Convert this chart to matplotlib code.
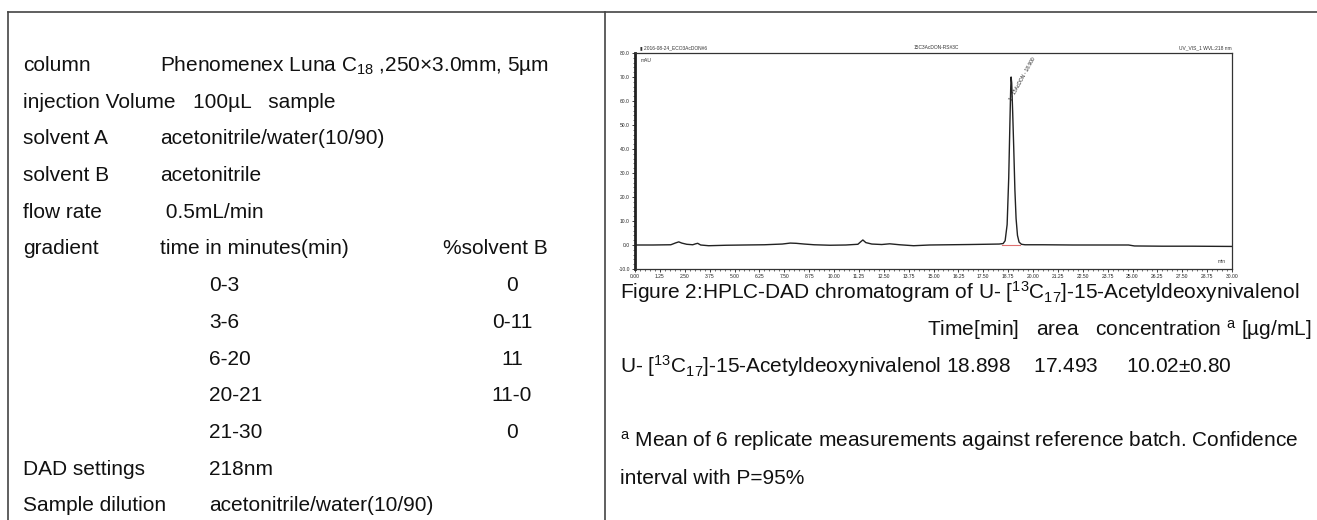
import matplotlib
matplotlib.use("Agg")
import matplotlib.pyplot as plt
from matplotlib.ticker import MultipleLocator, FormatStrFormatter

plt.rcParams['font.family'] = ['Liberation Sans', 'DejaVu Sans']
plt.rcParams['mathtext.fontset'] = 'custom'
plt.rcParams['mathtext.rm'] = 'Liberation Sans'
plt.rcParams['mathtext.it'] = 'Liberation Sans:italic'
plt.rcParams['mathtext.bf'] = 'Liberation Sans:bold'

# chromatogram trace (time in min, signal in mAU)
rt_min = [0.0, 0.9, 1.8, 2.05, 2.2, 2.35, 2.6, 2.9, 3.05, 3.15, 3.3, 3.7, 4.6, 5.5,
          6.5, 7.4, 7.8, 8.1, 8.5, 9.0, 9.8, 10.6, 11.2, 11.35, 11.45, 11.6, 11.9,
          12.4, 12.8, 13.3, 14.0, 14.8, 15.8, 16.8, 17.6, 18.3, 18.5, 18.6, 18.7,
          18.78, 18.84, 18.88, 18.9, 18.93, 18.98, 19.03, 19.09, 19.15, 19.22, 19.3,
          19.42, 19.6, 20.5, 22.0, 23.5, 24.8, 25.1, 26.5, 28.0, 30.0]
signal_mau = [0.0, 0.0, 0.1, 0.9, 1.3, 0.8, 0.3, 0.1, 0.5, 0.7, 0.0, -0.3, -0.1, 0.0,
              0.1, 0.4, 0.8, 0.7, 0.4, 0.1, -0.1, 0.0, 0.3, 1.4, 2.1, 1.0, 0.4,
              0.2, 0.5, 0.1, -0.3, 0.0, 0.1, 0.2, 0.3, 0.4, 0.6, 1.8, 8.5,
              28.0, 51.0, 65.5, 70.0, 67.5, 55.0, 41.0, 23.0, 11.0, 4.0, 1.2,
              0.3, 0.1, 0.1, 0.0, 0.0, 0.0, -0.4, -0.5, -0.5, -0.6]
# integration baseline under the main peak
base_t = [18.45, 19.35]
base_y = [0.2, 0.2]
peak_rt = 18.898
peak_label = "1 - 15AcDON - 18.900"

# method table (left cell)
method_keys = ["column", "injection Volume", "solvent A", "solvent B", "flow rate", "gradient"]
method_vals = ["Phenomenex Luna C$_{\\mathrm{18}}$ ,250×3.0mm, 5µm", "100µL   sample",
               "acetonitrile/water(10/90)", "acetonitrile", " 0.5mL/min", "time in minutes(min)"]
grad_time = ["0-3", "3-6", "6-20", "20-21", "21-30"]
grad_pct_b = ["0", "0-11", "11", "11-0", "0"]
extra_keys = ["DAD settings", "Sample dilution"]
extra_vals = ["218nm", "acetonitrile/water(10/90)"]

# result block (right cell)
caption = "Figure 2:HPLC-DAD chromatogram of U- [$^{\\mathrm{13}}$C$_{\\mathrm{17}}$]-15-Acetyldeoxynivalenol"
result_head = "Time[min]   area   concentration $^{\\mathrm{a}}$ [µg/mL]"
result_row = "U- [$^{\\mathrm{13}}$C$_{\\mathrm{17}}$]-15-Acetyldeoxynivalenol 18.898    17.493     10.02±0.80"
foot_1 = "$^{\\mathrm{a}}$ Mean of 6 replicate measurements against reference batch. Confidence"
foot_2 = "interval with P=95%"

W, H = 1317, 520
fs = 15
fig = plt.figure(figsize=(W / 100, H / 100), dpi=100)
bg = fig.add_axes([0, 0, 1, 1])
bg.set_xlim(0, W)
bg.set_ylim(H, 0)
bg.axis('off')

# table rules
lc = '#444444'
bg.plot([8, W], [12, 12], color=lc, lw=1.2)
bg.plot([8, 8], [12, H], color=lc, lw=1.2)
bg.plot([605, 605], [12, H], color=lc, lw=1.2)

def put(x, y, s, **kw):
    bg.text(x, y + 6, s, fontsize=fs, va='baseline', color='#111111', **kw)

row_y = [65 + 36.7 * i for i in range(13)]
val_x = [160, 193, 160, 160, 160, 160]

for i, k in enumerate(method_keys):
    put(23, row_y[i], k)
    put(val_x[i], row_y[i], method_vals[i])
put(443, row_y[5], "%solvent B")
for j, (t, p) in enumerate(zip(grad_time, grad_pct_b)):
    put(209, row_y[6 + j], t)
    put(512, row_y[6 + j], p, ha='center')
for j, (k, v) in enumerate(zip(extra_keys, extra_vals)):
    put(23, row_y[11 + j], k)
    put(209, row_y[11 + j], v)

# right cell text
put(620, 293, caption)
put(1311, 330, result_head, ha='right')
put(620, 367, result_row)
put(620, 441, foot_1)
put(620, 478, foot_2)

# chromatogram
ax = fig.add_axes([635 / W, 1 - 269 / H, (1232 - 635) / W, (269 - 53) / H])
ax.plot(rt_min, signal_mau, color='#222222', lw=1.0)
ax.plot(base_t, base_y, color='#e07070', lw=0.8)
ax.set_xlim(0, 30)
ax.set_ylim(-10, 80)
ax.xaxis.set_major_locator(MultipleLocator(1.25))
ax.xaxis.set_minor_locator(MultipleLocator(0.25))
ax.xaxis.set_major_formatter(FormatStrFormatter('%.2f'))
ax.yaxis.set_major_locator(MultipleLocator(10))
ax.yaxis.set_minor_locator(MultipleLocator(2))
ax.yaxis.set_major_formatter(FormatStrFormatter('%.1f'))
ax.tick_params(labelsize=3.6, length=2.2, width=0.6, colors='#222222', pad=1.5)
ax.tick_params(which='minor', length=1.2, width=0.5, colors='#333333')
for side in ['top', 'right', 'bottom']:
    ax.spines[side].set_linewidth(0.9)
    ax.spines[side].set_color('#333333')
ax.spines['left'].set_linewidth(2.0)
ax.spines['left'].set_color('#222222')

sm = 3.5
ax.text(0.008, 1.012, "▮ 2016-08-24_ECO3AcDON#6", transform=ax.transAxes, fontsize=sm,
        va='bottom', ha='left', color='#333333')
ax.text(0.505, 1.012, "15C3AcDON-RS#3C", transform=ax.transAxes, fontsize=sm,
        va='bottom', ha='center', color='#333333')
ax.text(1.0, 1.012, "UV_VIS_1 WVL:218 nm", transform=ax.transAxes, fontsize=sm,
        va='bottom', ha='right', color='#333333')
ax.text(0.01, 0.975, "mAU", transform=ax.transAxes, fontsize=sm, va='top', color='#333333')
ax.text(0.99, 0.03, "min", transform=ax.transAxes, fontsize=sm, ha='right', color='#333333')
ax.text(peak_rt + 0.08, 60, peak_label, rotation=61, rotation_mode='anchor',
        fontsize=sm, ha='left', va='bottom', color='#222222')

fig.savefig('out.png', dpi=100)
